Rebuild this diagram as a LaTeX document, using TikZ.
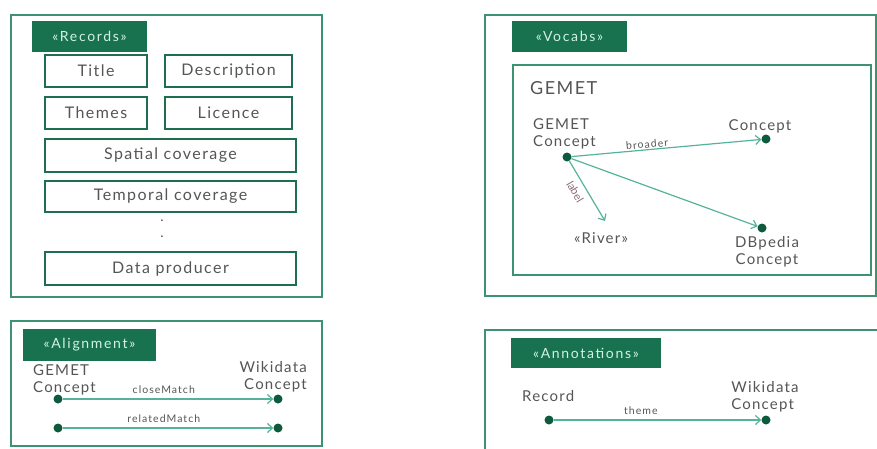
\documentclass[tikz,border=0pt]{standalone}
\usepackage{fontspec}
\setmainfont{Lato}
\newfontfamily\boxfont[LetterSpace=9]{Lato}
\newfontfamily\headfont[LetterSpace=12]{Lato}
\newfontfamily\termfont[LetterSpace=8]{Lato}
\newfontfamily\relfont[LetterSpace=10]{Lato}
\usetikzlibrary{arrows.meta}
\definecolor{framec}{HTML}{3D9272}
\definecolor{headc}{HTML}{18724F}
\definecolor{headt}{HTML}{D2F2E2}
\definecolor{boxc}{HTML}{1E6E50}
\definecolor{txt}{HTML}{555555}
\definecolor{conn}{HTML}{55B39C}
\definecolor{dotc}{HTML}{0D5A3C}
\definecolor{lblc}{HTML}{8A6A72}
\tikzset{
  frame/.style={draw=framec, line width=2pt, anchor=north west, inner sep=0pt},
  head/.style={fill=headc, text=headt, font=\headfont\fontsize{14}{16}\selectfont, minimum height=31pt, inner sep=0pt},
  fieldbox/.style={draw=boxc, line width=1.8pt, text=txt, font=\boxfont\fontsize{16}{18}\selectfont, minimum height=32pt, inner sep=0pt},
  term/.style={text=txt, font=\termfont\fontsize{15}{17}\selectfont, align=left, inner sep=0pt},
  dotn/.style={circle, fill=dotc, minimum width=9pt, minimum height=8pt, inner sep=0pt},
  link/.style={draw=conn, line width=1.2pt, -{Straight Barb[length=5pt,width=9pt]}},
  rel/.style={text=txt, font=\relfont\fontsize{10.5}{12}\selectfont, inner sep=1pt},
}
\begin{document}
\begin{tikzpicture}[x=1pt,y=-1pt]
\useasboundingbox (0,0) rectangle (877,448);
% Records
\node[frame, minimum width=311pt, minimum height=282pt] (recf) at (10,14) {};
\node[head, minimum width=115pt] (rech) at (89.5,36.5) {«Records»};
\node[fieldbox, minimum width=102pt] (title) at (96,71) {Title};
\node[fieldbox, minimum width=127pt] (desc) at (228.5,71) {Description};
\node[fieldbox, minimum width=102pt] (themes) at (96,113) {Themes};
\node[fieldbox, minimum width=127pt] (lic) at (228.5,113) {Licence};
\node[fieldbox, minimum width=251pt, minimum height=33pt] (spat) at (170.5,155.5) {Spatial coverage};
\node[fieldbox, minimum width=251pt, minimum height=31pt] (temp) at (170.5,196.5) {Temporal coverage};
\node[text=txt, font=\fontsize{14}{16}\selectfont, inner sep=0pt] (d1) at (162,221) {.};
\node[text=txt, font=\fontsize{14}{16}\selectfont, inner sep=0pt] (d2) at (162,237) {.};
\node[fieldbox, minimum width=251pt, minimum height=33pt] (prod) at (170.5,268.5) {Data producer};
% Vocabs
\node[frame, minimum width=391pt, minimum height=281pt] (vocf) at (484,14) {};
\node[head, minimum width=115pt] (voch) at (569.5,36) {«Vocabs»};
\node[frame, minimum width=358pt, minimum height=210pt] (gemf) at (512,64) {};
\node[text=txt, font=\termfont\fontsize{18}{20}\selectfont, anchor=west, inner sep=0pt] (gemt) at (530,88) {GEMET};
\node[term, anchor=south west] (gc) at (533,149) {GEMET\\Concept};
\node[dotn] (gcd) at (567,157) {};
\node[term, anchor=south] (cc) at (760,133) {Concept};
\node[dotn] (ccd) at (766,139) {};
\node[dotn] (dbd) at (762,228) {};
\node[term, anchor=north, align=center] (db) at (767,236) {DBpedia\\Concept};
\coordinate (rv) at (605,221);
\node[term] (river) at (601,238) {«River»};
\draw[link] (gcd) -- node[rel, sloped, above, pos=0.4] {broader} (ccd);
\draw[link] (gcd) -- (dbd);
\draw[link] (gcd) -- node[rel, font=\fontsize{11}{12}\selectfont, sloped, below=5pt, pos=0.42, text=lblc] {label} (rv);
% Alignment
\node[frame, minimum width=311pt, minimum height=125pt] (alf) at (10,320) {};
\node[head, minimum width=133pt, minimum height=32pt] (alh) at (89.5,345) {«Alignment»};
\node[term, anchor=north west] (gc2) at (33,364) {GEMET\\Concept};
\node[term, anchor=north east, align=right] (wd) at (307,361) {Wikidata\\Concept};
\node[dotn] (a1) at (58,399) {};
\node[dotn] (a2) at (278,399) {};
\node[dotn] (b1) at (58,428) {};
\node[dotn] (b2) at (278,428) {};
\draw[link] (a1) -- node[rel, above=4pt, pos=0.48] {closeMatch} (a2);
\draw[link] (b1) -- node[rel, above=4pt, pos=0.48] {relatedMatch} (b2);
% Annotations
\node[frame, minimum width=400pt, minimum height=140pt] (anf) at (484,329) {};
\node[head, minimum width=150pt, minimum height=30pt] (anh) at (586,353) {«Annotations»};
\node[term, anchor=west] (rec) at (522,396) {Record};
\node[term, anchor=south, align=left] (wd2) at (765,412) {Wikidata\\Concept};
\node[dotn] (r1) at (549,420) {};
\node[dotn] (r2) at (766,420) {};
\draw[link] (r1) -- node[rel, above=4pt, pos=0.42] {theme} (r2);
\end{tikzpicture}
\end{document}
